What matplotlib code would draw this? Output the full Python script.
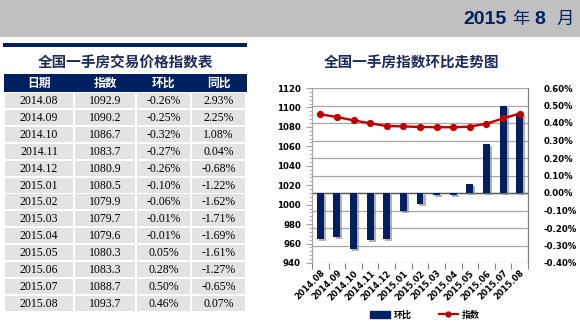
import numpy as np
import matplotlib
matplotlib.use("Agg")
import matplotlib.pyplot as plt
from matplotlib.patches import Rectangle, Patch
from matplotlib.lines import Line2D
from matplotlib.ticker import FixedLocator, MultipleLocator, FuncFormatter
import matplotlib.patheffects as pe

# ---------------- data ----------------
dates = ['2014.08', '2014.09', '2014.10', '2014.11', '2014.12', '2015.01', '2015.02',
         '2015.03', '2015.04', '2015.05', '2015.06', '2015.07', '2015.08']
index_vals = [1092.9, 1090.2, 1086.7, 1083.7, 1080.9, 1080.5, 1079.9,
              1079.7, 1079.6, 1080.3, 1083.3, 1088.7, 1093.7]
mom = [-0.26, -0.25, -0.32, -0.27, -0.26, -0.10, -0.06,
       -0.01, -0.01, 0.05, 0.28, 0.50, 0.46]
yoy = [2.93, 2.25, 1.08, 0.04, -0.68, -1.22, -1.62,
       -1.71, -1.69, -1.61, -1.27, -0.65, 0.07]
table_headers = ['日期', '指数', '环比', '同比']
left_ticks = list(range(940, 1121, 20))
right_ticks = [-0.4, -0.3, -0.2, -0.1, 0.0, 0.1, 0.2, 0.3, 0.4, 0.5, 0.6]

CJK = ['Noto Sans CJK SC', 'DejaVu Sans']
NAVY = '#002060'
TITLE = '#1F2A5C'

fig = plt.figure(figsize=(5.8, 3.25), dpi=100)
bg = fig.add_axes([0, 0, 1, 1])
bg.set_xlim(0, 580)
bg.set_ylim(325, 0)
bg.axis('off')

# header band
bg.add_patch(Rectangle((0, 0), 580, 36.7, color='#C0C0C0', lw=0))
bg.add_patch(Rectangle((3, 42.7), 244, 4, color=NAVY, lw=0))
big = ['Liberation Sans', 'DejaVu Sans']
bg.text(507, 19, '2015', family=big, weight='bold', fontsize=14, color=NAVY,
        ha='right', va='center')
bg.text(520.5, 19, '年', family=CJK, fontsize=12.5, color=NAVY, ha='center', va='center')
bg.text(540, 19, '8', family=big, weight='bold', fontsize=14, color=NAVY,
        ha='center', va='center')
bg.text(565, 19, '月', family=CJK, fontsize=12.5, color=NAVY, ha='center', va='center')

# ---------------- table ----------------
bg.text(125, 63, '全国一手房交易价格指数表', family=CJK, weight='bold', fontsize=10.5,
        color=TITLE, ha='center', va='center')
bg.add_patch(Rectangle((4, 74.3), 243, 17.4, color=NAVY, lw=0))
cols = [(5, 73), (75, 135), (137, 190), (192, 245)]
for (x0, x1), h in zip(cols, table_headers):
    bg.text((x0 + x1) / 2, 83.2, h, family=CJK, weight='bold', fontsize=8.5,
            color='white', ha='center', va='center')
row_top = 93.3
row_h = 16.85
for i in range(len(dates)):
    y0 = row_top + i * row_h
    vals = [dates[i], f'{index_vals[i]:.1f}', f'{mom[i]:.2f}%', f'{yoy[i]:.2f}%']
    for (x0, x1), v in zip(cols, vals):
        bg.add_patch(Rectangle((x0, y0), x1 - x0, row_h - 1.8, color='#E3E3E3', lw=0))
        bg.text((x0 + x1) / 2, y0 + (row_h - 1.8) / 2 + 0.5, v, family='Liberation Serif',
                fontsize=8.5, color='black', ha='center', va='center')

# ---------------- chart ----------------
bg.text(412, 62, '全国一手房指数环比走势图', family=CJK, weight='bold', fontsize=10.5,
        color=TITLE, ha='center', va='center')

L, R, B, T = 312, 528, 263, 88
ax = fig.add_axes([L / 580, 1 - B / 325, (R - L) / 580, (B - T) / 325])
ax2 = ax.twinx()

x = np.arange(len(dates))
shadow = [pe.withSimplePatchShadow(offset=(1.5, -1.5), shadow_rgbFace='#808080', alpha=0.6),
          pe.Normal()]
ax.bar(x, mom, width=0.42, color=NAVY, zorder=3, path_effects=shadow)
ax.set_ylim(-0.4, 0.6)
ax.set_xlim(-0.5, len(dates) - 0.5)
ax.yaxis.set_major_locator(FixedLocator(right_ticks))
ax.yaxis.set_major_formatter(FuncFormatter(lambda v, p: f'{v:.2f}%'))
ax.grid(axis='y', color='#A6A6A6', lw=0.9, zorder=0)
ax.axhline(0, color='#595959', lw=1.0, zorder=2)
ax.yaxis.tick_right()
ax.tick_params(axis='y', which='both', length=0, pad=11, labelsize=6.2)
for lab in ax.get_yticklabels():
    lab.set_fontweight('bold')

ax.set_xticks(x)
ax.set_xticklabels(dates, rotation=45, ha='right', rotation_mode='anchor',
                   fontsize=6, fontweight='bold')
ax.set_xticks(np.arange(-0.5, len(dates), 1), minor=True)
ax.tick_params(axis='x', which='major', length=0, pad=4)
ax.tick_params(axis='x', which='minor', length=4, color='#808080', width=0.8)
for s in ax.spines.values():
    s.set_visible(False)

ax2.plot(x, index_vals, color='#C00000', lw=1.7, marker='o', markersize=4.2,
         zorder=5)
ax2.set_ylim(940, 1120)
ax2.yaxis.set_major_locator(FixedLocator(left_ticks))
ax2.yaxis.set_minor_locator(MultipleLocator(4))
ax2.yaxis.tick_left()
ax2.tick_params(axis='y', which='major', length=4, color='#A0A0A0', width=0.8,
                labelsize=6.2, pad=4)
ax2.tick_params(axis='y', which='minor', length=2, color='#A0A0A0', width=0.6)
for lab in ax2.get_yticklabels():
    lab.set_fontweight('bold')
ax2.spines['top'].set_visible(False)
ax2.spines['bottom'].set_visible(False)
ax2.spines['left'].set_color('#A6A6A6')
ax2.spines['right'].set_color('#808080')
ax2.spines['left'].set_linewidth(0.9)
ax2.spines['right'].set_linewidth(0.9)

handles = [Patch(color=NAVY),
           Line2D([0], [0], color='#C00000', lw=1.6, marker='o', markersize=3.5)]
fig.legend(handles, ['环比', '指数'], loc='center', bbox_to_anchor=(425 / 580, 1 - 315 / 325),
           ncol=2, frameon=False, prop={'family': CJK, 'weight': 'bold', 'size': 6.5},
           handlelength=2.2, handleheight=0.7, columnspacing=3, handletextpad=0.4)

fig.savefig('out.png', dpi=100)
